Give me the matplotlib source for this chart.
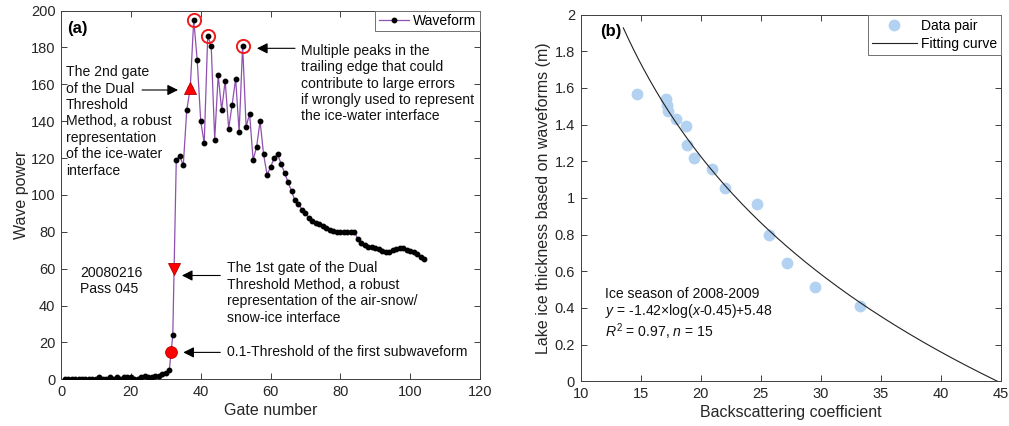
import numpy as np
import matplotlib
matplotlib.use("Agg")
import matplotlib.pyplot as plt
from matplotlib.lines import Line2D

plt.rcParams['font.family'] = ['Liberation Sans', 'DejaVu Sans']
plt.rcParams['mathtext.fontset'] = 'custom'
plt.rcParams['mathtext.rm'] = 'Liberation Sans'
plt.rcParams['mathtext.it'] = 'Liberation Sans:italic'

# ---------------- data: panel (a) ----------------
gates = list(range(1, 105))
wave_power = [0, 0, 0, 0, 0, 0, 0, 0, 0, 0,
              1, 0, 0, 1, 0, 1, 0, 1, 1, 1,
              0, 0, 1, 2, 1, 1, 2, 2, 3, 3.5,
              5, 24, 119, 121, 116, 146, 158, 195, 173, 140,
              128, 186, 181, 130, 165, 146, 162, 136, 149, 163,
              134, 181, 137, 144, 119, 126, 140, 122, 111, 115,
              120, 122, 117, 112, 107, 102, 97, 95, 92, 90,
              87.5, 86, 85, 84, 83, 82, 81, 80.5, 80, 80,
              80, 80, 80, 80, 76, 74, 73, 72, 71.5, 71,
              70.5, 69.5, 69, 69, 70, 70.5, 71, 71, 70, 69.5,
              69, 68, 66.5, 65]
peak_gates = [38, 42, 52]
peak_values = [195, 186, 181]
thr01_gate, thr01_value = 31.5, 15          # 0.1-threshold of first subwaveform
gate1_gate, gate1_value = 32.4, 60          # 1st gate of dual threshold
gate2_gate, gate2_value = 37, 158           # 2nd gate of dual threshold

# ---------------- data: panel (b) ----------------
backscatter = [14.67, 17.08, 17.22, 17.30, 17.90, 18.78, 18.83, 19.44,
               20.97, 22.03, 24.64, 25.67, 27.17, 29.53, 33.28]
thickness = [1.567, 1.538, 1.509, 1.473, 1.433, 1.391, 1.286, 1.218,
             1.158, 1.055, 0.966, 0.796, 0.647, 0.514, 0.411]
# fitting curve as drawn: y = a*ln(x-b)+c
fit_a, fit_b, fit_c = -1.27, 4.8, 4.682
fit_xmin, fit_xmax = 13.55, 44.7

AX_COL = '#404040'
TXT_COL = '#262626'
LINE_PURPLE = '#9050b0'

fig = plt.figure(figsize=(10.09, 4.26), dpi=100)
axA = fig.add_axes([0.0605, 0.1096, 0.4153, 0.8657])
axB = fig.add_axes([0.5755, 0.1049, 0.4166, 0.861])

def style(ax):
    for s in ax.spines.values():
        s.set_color(AX_COL)
        s.set_linewidth(0.7)
    ax.tick_params(direction='in', top=True, right=True, length=4, width=0.7,
                   colors=AX_COL, labelcolor=TXT_COL, labelsize=10.5, pad=4)

# ---------------- panel (a) ----------------
axA.plot(gates, wave_power, '-', color=LINE_PURPLE, lw=0.9, marker='o',
         ms=3.2, mfc='black', mec='black', zorder=3)
axA.plot(peak_gates, peak_values, 'o', ms=9.5, mfc='none', mec='#ee1c1c', mew=1.4, zorder=4)
axA.plot([thr01_gate], [thr01_value], 'o', ms=8.5, mfc='#ff0000', mec='#b00000', mew=0.6, zorder=5)
axA.plot([gate1_gate], [gate1_value], 'v', ms=8.5, mfc='#ff0000', mec='#b00000', mew=0.6, zorder=5)
axA.plot([gate2_gate], [gate2_value], '^', ms=8.5, mfc='#ff0000', mec='#b00000', mew=0.6, zorder=5)

axA.set_xlim(0, 120)
axA.set_ylim(0, 200)
axA.set_xticks(np.arange(0, 121, 20))
axA.set_yticks(np.arange(0, 201, 20))
style(axA)
axA.set_xlabel('Gate number', fontsize=11.5, color=TXT_COL, labelpad=3)
axA.set_ylabel('Wave power', fontsize=11.5, color=TXT_COL, labelpad=1)

fs = 10.1
ls = 1.22
arrow_kw = dict(arrowstyle='-|>', color='black', lw=0.8, mutation_scale=16,
                shrinkA=0, shrinkB=0)
axA.text(1.7, 190.5, '(a)', fontsize=12, fontweight='bold', va='center', ha='left')
axA.text(1.4, 170.4, 'The 2nd gate\nof the Dual\nThreshold\nMethod, a robust\n'
         'representation\nof the ice-water\ninterface', fontsize=fs, va='top',
         ha='left', linespacing=ls, color='#111111')
axA.annotate('', xy=(33.5, 156.9), xytext=(23.2, 156.9), arrowprops=arrow_kw)
axA.text(68.8, 182.0, 'Multiple peaks in the\ntrailing edge that could\n'
         'contribute to large errors\nif wrongly used to represent\n'
         'the ice-water interface', fontsize=fs, va='top', ha='left',
         linespacing=ls, color='#111111')
axA.annotate('', xy=(56.1, 179.5), xytext=(67.0, 179.5), arrowprops=arrow_kw)
axA.text(5.4, 61.7, '20080216\nPass 045', fontsize=fs, va='top', ha='left',
         linespacing=ls, color='#111111')
axA.text(47.5, 63.9, 'The 1st gate of the Dual\nThreshold Method, a robust\n'
         'representation of the air-snow/\nsnow-ice interface', fontsize=fs,
         va='top', ha='left', linespacing=ls, color='#111111')
axA.annotate('', xy=(34.6, 56.3), xytext=(45.6, 56.3), arrowprops=arrow_kw)
axA.text(47.5, 15.0, '0.1-Threshold of the first subwaveform', fontsize=fs,
         va='center', ha='left', color='#111111')
axA.annotate('', xy=(35.0, 14.6), xytext=(45.6, 14.6), arrowprops=arrow_kw)

legA = axA.legend([Line2D([0], [0], color=LINE_PURPLE, lw=0.9, marker='o', ms=3.2,
                          mfc='black', mec='black')], ['Waveform'],
                  loc='upper right', borderaxespad=0, fancybox=False,
                  framealpha=1, edgecolor='#707070', fontsize=10,
                  handlelength=2.2, handletextpad=0.3, borderpad=0.25)
legA.get_frame().set_linewidth(0.7)

# ---------------- panel (b) ----------------
xs = np.linspace(fit_xmin, fit_xmax, 300)
axB.plot(xs, fit_a * np.log(xs - fit_b) + fit_c, '-', color='#222222', lw=0.8, zorder=3)
axB.plot(backscatter, thickness, 'o', ms=8.5, color='#b3d1f1', mec='none', zorder=2)
axB.set_xlim(10, 45)
axB.set_ylim(0, 2)
axB.set_xticks(np.arange(10, 46, 5))
axB.set_yticks(np.arange(0, 2.01, 0.2))
axB.set_yticklabels(['0', '0.2', '0.4', '0.6', '0.8', '1', '1.2', '1.4', '1.6', '1.8', '2'])
style(axB)
axB.set_xlabel('Backscattering coefficient', fontsize=11.5, color=TXT_COL, labelpad=3)
axB.set_ylabel('Lake ice thickness based on waveforms (m)', fontsize=11.5,
               color=TXT_COL, labelpad=3)
axB.text(11.6, 1.905, '(b)', fontsize=12, fontweight='bold', va='center', ha='left')
axB.text(12.0, 0.478, 'Ice season of 2008-2009', fontsize=fs, va='center', ha='left', color='#111111')
axB.text(12.0, 0.383, r'$y$ = -1.42×log($x$-0.45)+5.48', fontsize=fs, va='center', ha='left', color='#111111')
axB.text(12.0, 0.272, r'$R^2$ = 0.97, $n$ = 15', fontsize=fs, va='center', ha='left', color='#111111')

legB = axB.legend([Line2D([0], [0], ls='none', marker='o', ms=8.5, color='#b3d1f1', mec='none'),
                   Line2D([0], [0], color='#222222', lw=0.8)],
                  ['Data pair', 'Fitting curve'], loc='upper right', borderaxespad=0,
                  fancybox=False, framealpha=1, edgecolor='#707070', fontsize=10,
                  handlelength=3.2, handletextpad=0.3, borderpad=0.3, labelspacing=0.3)
legB.get_frame().set_linewidth(0.7)

fig.savefig('out.png', dpi=100)
